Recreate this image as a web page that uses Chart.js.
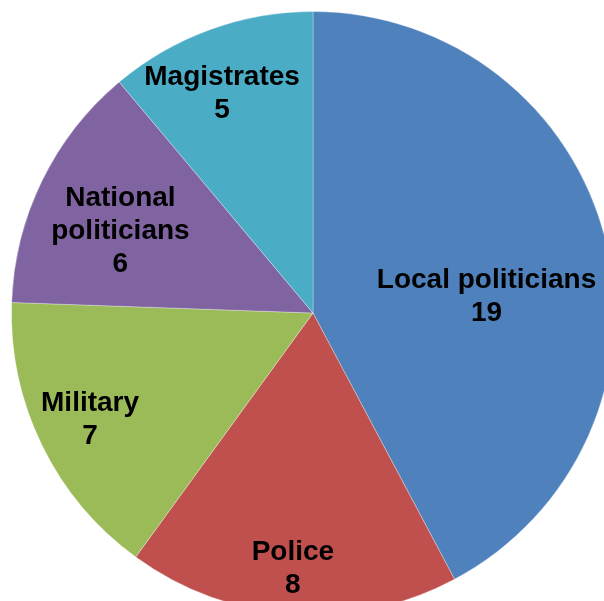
<!DOCTYPE html>
<html>
<head>
<meta charset="utf-8">
<script src="https://cdn.jsdelivr.net/npm/chart.js@4/dist/chart.umd.min.js"></script>
<style>
  html, body { margin: 0; padding: 0; background: #fff; overflow: hidden; }
  #wrap { width: 626px; height: 626px; }
</style>
</head>
<body>
<div id="wrap"><canvas id="myChart" width="626" height="626"></canvas></div>
<script>
const categorias = ["Local politicians", "Police", "Military", "National politicians", "Magistrates"];
const valores = [19, 8, 7, 6, 5];
const colores = ["#4F81BD", "#C0504D", "#9BBB59", "#8064A2", "#4BACC6"];
// where each label sits: fraction of the radius, and degrees off the slice middle
const labelRadio = [0.578, 0.85, 0.82, 0.694, 0.788];
const labelGiro = [8.7, 0.5, 0.4, -3, -2.5];
const labelLineas = [["Local politicians"], ["Police"], ["Military"], ["National", "politicians"], ["Magistrates"]];

const etiquetas = {
  id: "etiquetas",
  afterDatasetsDraw(chart) {
    const ctx = chart.ctx;
    const meta = chart.getDatasetMeta(0);
    ctx.save();
    ctx.font = "bold 28px 'Liberation Sans', Arial, sans-serif";
    ctx.fillStyle = "#000";
    ctx.textAlign = "center";
    ctx.textBaseline = "middle";
    meta.data.forEach((arc, i) => {
      const p = arc.getProps(["x", "y", "startAngle", "endAngle", "outerRadius"], true);
      const ang = (p.startAngle + p.endAngle) / 2 + labelGiro[i] * Math.PI / 180;
      const r = p.outerRadius * labelRadio[i];
      const cx = p.x + Math.cos(ang) * r;
      const cy = p.y + Math.sin(ang) * r;
      const lineas = labelLineas[i].concat([String(valores[i])]);
      const alto = 33;
      const y0 = cy - (lineas.length - 1) * alto / 2;
      lineas.forEach((t, j) => ctx.fillText(t, cx, y0 + j * alto));
    });
    ctx.restore();
  }
};

const myChart = new Chart(document.getElementById("myChart"), {
  type: "pie",
  data: {
    labels: categorias,
    datasets: [{
      data: valores,
      backgroundColor: colores,
      borderColor: "rgba(255,255,255,0.3)",
      borderWidth: 1
    }]
  },
  options: {
    responsive: false,
    animation: false,
    layout: { padding: 11 },
    plugins: {
      legend: { display: false },
      tooltip: { enabled: false }
    }
  },
  plugins: [etiquetas]
});
</script>
</body>
</html>
